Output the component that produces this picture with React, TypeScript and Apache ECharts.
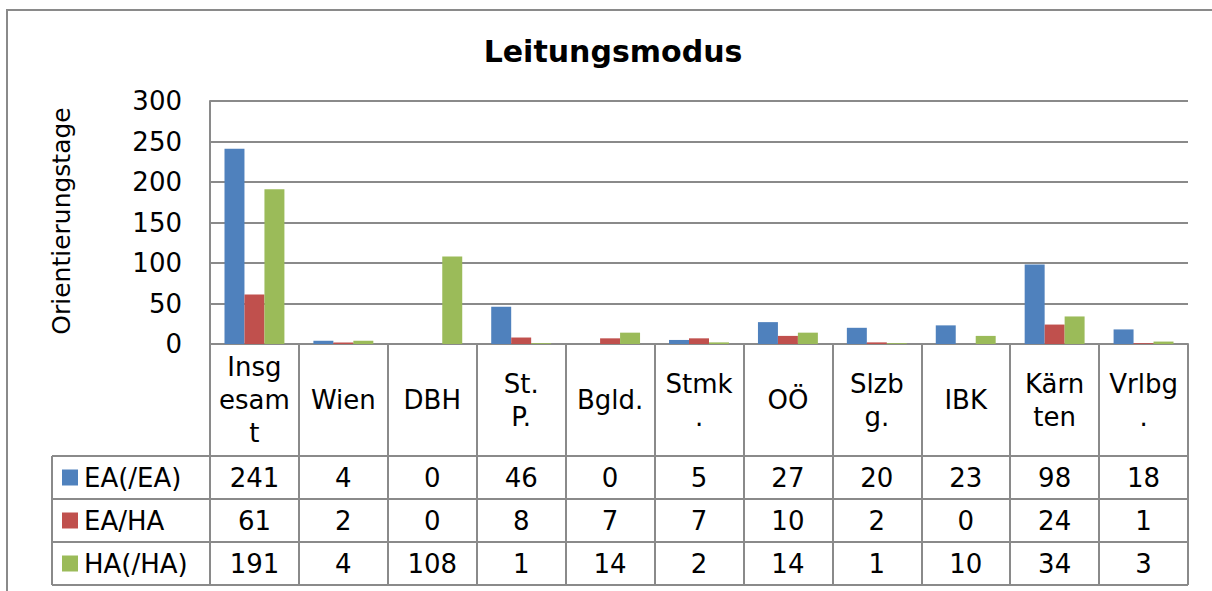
import React, { useEffect, useRef } from "react";
import * as echarts from "echarts";

const categories = ["Insg\nesam\nt", "Wien", "DBH", "St.\nP.", "Bgld.", "Stmk\n.", "OÖ", "Slzb\ng.", "IBK", "Kärn\nten", "Vrlbg\n."];
const seriesNames = ["EA(/EA)", "EA/HA", "HA(/HA)"];
const eaValues = [241, 4, 0, 46, 0, 5, 27, 20, 23, 98, 18];
const eahaValues = [61, 2, 0, 8, 7, 7, 10, 2, 0, 24, 1];
const haValues = [191, 4, 108, 1, 14, 2, 14, 1, 10, 34, 3];
const yTicks = { min: 0, max: 300, interval: 50 };
const titleText = "Leitungsmodus";
const yAxisName = "Orientierungstage";

const COLORS = ["#4F81BD", "#C0504D", "#9BBB59"];
const GRAY = "#8a8a8a";
const FONT = "DejaVu Sans";
const FS = 26;

export default function App() {
  const ref = useRef<HTMLDivElement>(null);
  useEffect(() => {
    if (!ref.current) return;
    const chart = echarts.init(ref.current, null, { renderer: "svg" });
    const allValues = [eaValues, eahaValues, haValues];
    const gridLeft = 210;
    const gridTop = 101;
    const gridRight = 24;
    const zeroY = 344;
    const gridBottom = 591 - zeroY;
    const tableBottom = 585;
    const rowLines = [456, 499, 542, tableBottom];
    const legendLeft = 52;
    chart.setOption({
      animation: false,
      textStyle: { fontFamily: FONT },
      grid: { left: gridLeft, top: gridTop, right: gridRight, bottom: gridBottom },
      xAxis: {
        type: "category",
        data: categories,
        axisLine: { show: true, lineStyle: { color: GRAY, width: 2 } },
        axisTick: {
          show: true,
          interval: 0,
          alignWithLabel: false,
          length: tableBottom - zeroY,
          lineStyle: { color: GRAY, width: 2 },
        },
        axisLabel: {
          interval: 0,
          color: "#000",
          fontFamily: FONT,
          fontSize: FS,
          lineHeight: 33,
          verticalAlign: "middle",
          margin: 56,
        },
        splitLine: { show: false },
      },
      yAxis: {
        type: "value",
        min: yTicks.min,
        max: yTicks.max,
        interval: yTicks.interval,
        axisLine: { show: true, lineStyle: { color: GRAY, width: 2 } },
        axisTick: { show: false },
        axisLabel: { color: "#000", fontFamily: FONT, fontSize: FS, margin: 28 },
        splitLine: { show: true, lineStyle: { color: GRAY, width: 2 } },
      },
      series: allValues.map((vals, i) => ({
        name: seriesNames[i],
        type: "bar",
        data: vals,
        barGap: "0%",
        barCategoryGap: "32.6%",
        itemStyle: { color: COLORS[i] },
      })),
    });

    const centers = categories.map((_, i) => chart.convertToPixel({ xAxisIndex: 0 }, i) as number);
    const plotRight = 1212 - gridRight;
    const graphic: any[] = [];
    graphic.push({
      type: "rect",
      silent: true,
      shape: { x: 7, y: 10, width: 1400, height: 800 },
      style: { fill: "none", stroke: GRAY, lineWidth: 2 },
    });
    graphic.push({
      type: "text",
      silent: true,
      x: 613,
      y: 51,
      style: { text: titleText, fontFamily: FONT, fontSize: 30, fontWeight: "bold", fill: "#000", align: "center", verticalAlign: "middle" },
    });
    graphic.push({
      type: "text",
      silent: true,
      x: 61,
      y: 221,
      rotation: Math.PI / 2,
      style: { text: yAxisName, fontFamily: FONT, fontSize: 25, fill: "#000", align: "center", verticalAlign: "middle" },
    });
    rowLines.forEach((y) => {
      graphic.push({
        type: "line",
        silent: true,
        shape: { x1: legendLeft, y1: y, x2: plotRight, y2: y },
        style: { stroke: GRAY, lineWidth: 2 },
      });
    });
    graphic.push({
      type: "line",
      silent: true,
      shape: { x1: legendLeft, y1: rowLines[0], x2: legendLeft, y2: tableBottom },
      style: { stroke: GRAY, lineWidth: 2 },
    });
    allValues.forEach((vals, r) => {
      const cy = (rowLines[r] + rowLines[r + 1]) / 2;
      graphic.push({
        type: "rect",
        silent: true,
        shape: { x: 62, y: cy - 8, width: 16, height: 16 },
        style: { fill: COLORS[r] },
      });
      graphic.push({
        type: "text",
        silent: true,
        x: 84,
        y: cy,
        style: { text: seriesNames[r], fontFamily: FONT, fontSize: FS, fill: "#000", align: "left", verticalAlign: "middle" },
      });
      vals.forEach((v, i) => {
        graphic.push({
          type: "text",
          silent: true,
          x: centers[i],
          y: cy,
          style: { text: String(v), fontFamily: FONT, fontSize: FS, fill: "#000", align: "center", verticalAlign: "middle" },
        });
      });
    });
    chart.setOption({ graphic });
    return () => chart.dispose();
  }, []);
  return <div ref={ref} style={{ position: "absolute", left: 0, top: 0, width: 1212, height: 591, background: "#fff" }} />;
}
